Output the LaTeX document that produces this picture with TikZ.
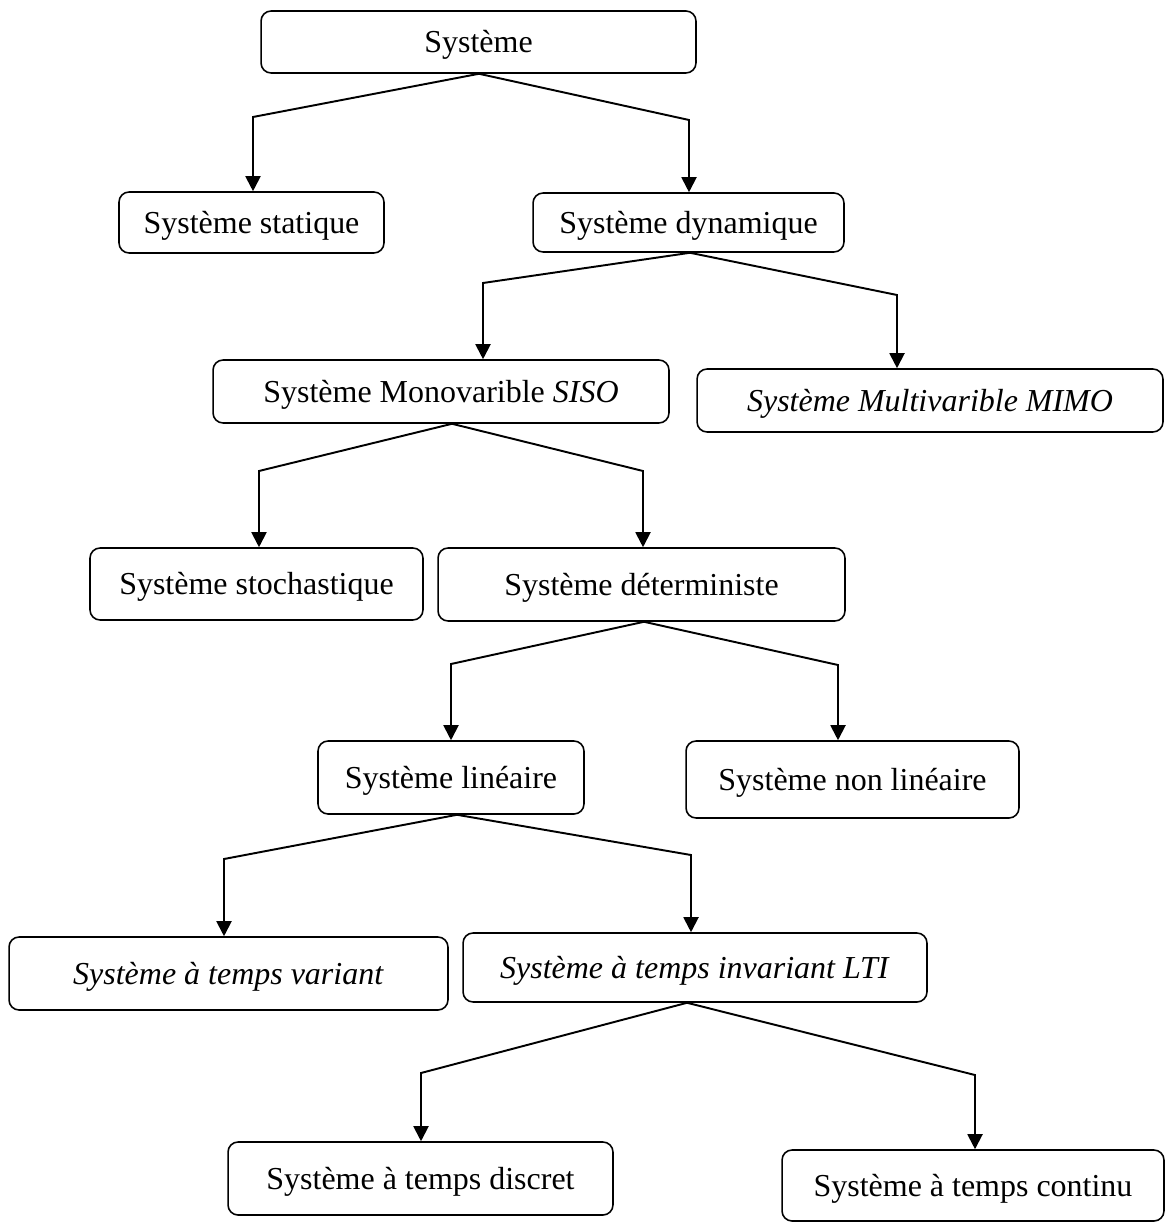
\documentclass[tikz,border=0pt]{standalone}
\usepackage{fontspec}
\setmainfont{Liberation Serif}
\usetikzlibrary{arrows.meta}
\tikzset{
  box/.style={draw, line width=0.9pt, rounded corners=0.2cm, inner sep=0pt,
    font=\fontsize{18.2}{21}\selectfont, text height=15pt, text depth=3pt},
  link/.style={line width=1.1pt, -{Triangle[length=0.3cm,width=0.3cm]}},
}
\begin{document}
\begin{tikzpicture}[x=0.02cm,y=-0.02cm]
\useasboundingbox (0,0) rectangle (1165,1222);
% boxes
\node[box, minimum width=8.70cm, minimum height=1.24cm] (sys) at (478.5,42) {Système};
\node[box, minimum width=5.30cm, minimum height=1.22cm] (stat) at (251.5,222.5) {Système statique};
\node[box, minimum width=6.22cm, minimum height=1.18cm] (dyn) at (688.5,222.5) {Système dynamique};
\node[box, minimum width=9.12cm, minimum height=1.26cm] (siso) at (441,391.5) {Système Monovarible \textit{SISO}};
\node[box, minimum width=9.32cm, minimum height=1.26cm] (mimo) at (930,400.5) {\textit{Système Multivarible MIMO}};
\node[box, minimum width=6.66cm, minimum height=1.44cm] (stoch) at (256.5,584) {Système stochastique};
\node[box, minimum width=8.14cm, minimum height=1.46cm] (det) at (641.5,584.5) {Système déterministe};
\node[box, minimum width=5.32cm, minimum height=1.46cm] (lin) at (451,777.5) {Système linéaire};
\node[box, minimum width=6.66cm, minimum height=1.54cm] (nonlin) at (852.5,779.5) {Système non linéaire};
\node[box, minimum width=8.78cm, minimum height=1.46cm] (var) at (228.5,973.5) {\textit{Système à temps variant}};
\node[box, minimum width=9.28cm, minimum height=1.38cm] (lti) at (695,967.5) {\textit{Système à temps invariant LTI}};
\node[box, minimum width=7.70cm, minimum height=1.46cm] (disc) at (420.5,1178.5) {Système à temps discret};
\node[box, minimum width=7.64cm, minimum height=1.42cm] (cont) at (973,1185.5) {Système à temps continu};
% bend points
\coordinate (b1L) at (253,117);  \coordinate (b1R) at (689,120);
\coordinate (b2L) at (483,283);  \coordinate (b2R) at (897,295);
\coordinate (b3L) at (259,471);  \coordinate (b3R) at (643,471);
\coordinate (b4L) at (451,664);  \coordinate (b4R) at (838,665);
\coordinate (b5L) at (224,859);  \coordinate (b5R) at (691,855);
\coordinate (b6L) at (421,1073); \coordinate (b6R) at (975,1075);
% connectors
\draw[link] (sys.south -| 479,0) -- (b1L) -- (b1L |- stat.north);
\draw[link] (sys.south -| 479,0) -- (b1R) -- (b1R |- dyn.north);
\draw[link] (dyn.south -| 690,0) -- (b2L) -- (b2L |- siso.north);
\draw[link] (dyn.south -| 690,0) -- (b2R) -- (b2R |- mimo.north);
\draw[link] (siso.south -| 452,0) -- (b3L) -- (b3L |- stoch.north);
\draw[link] (siso.south -| 452,0) -- (b3R) -- (b3R |- det.north);
\draw[link] (det.south -| 644,0) -- (b4L) -- (b4L |- lin.north);
\draw[link] (det.south -| 644,0) -- (b4R) -- (b4R |- nonlin.north);
\draw[link] (lin.south -| 457,0) -- (b5L) -- (b5L |- var.north);
\draw[link] (lin.south -| 457,0) -- (b5R) -- (b5R |- lti.north);
\draw[link] (lti.south -| 687,0) -- (b6L) -- (b6L |- disc.north);
\draw[link] (lti.south -| 687,0) -- (b6R) -- (b6R |- cont.north);
\end{tikzpicture}
\end{document}
